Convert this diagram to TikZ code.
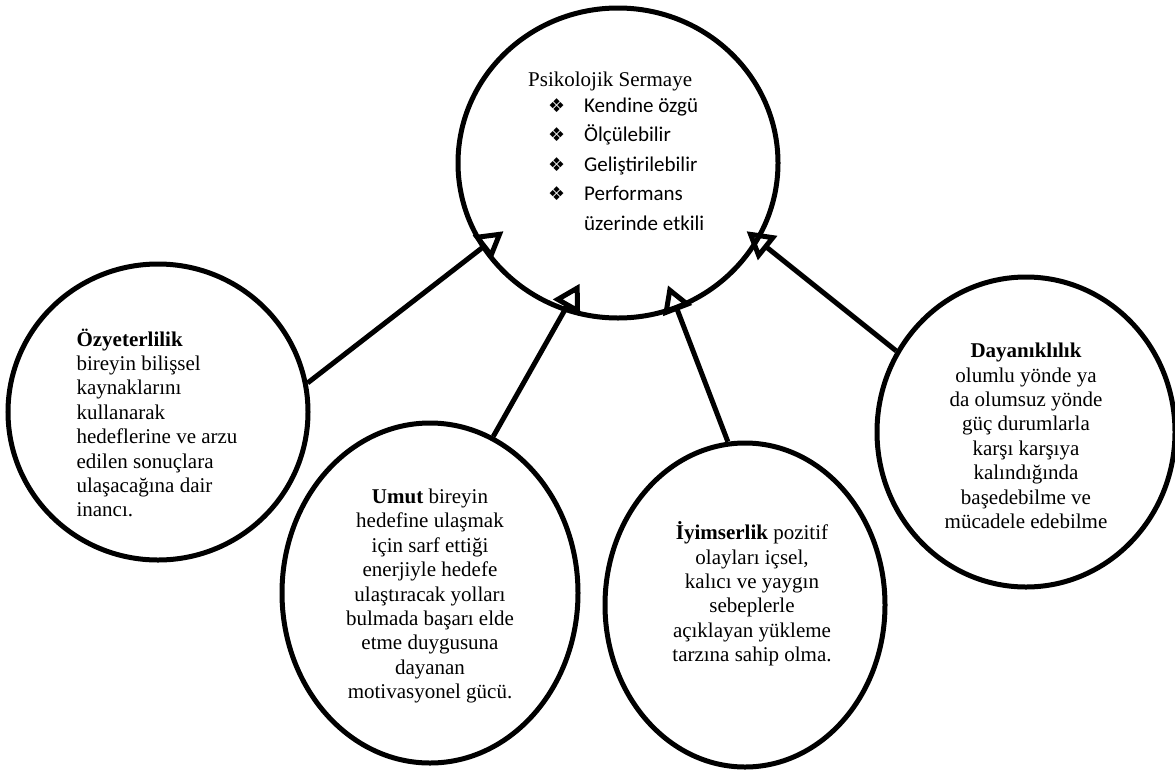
\documentclass[tikz,border=0pt]{standalone}
\usepackage{fontspec}
\setmainfont{Liberation Serif}
\newfontfamily\calibrifont{Carlito}
\newfontfamily\symbolfont{DejaVu Sans}
\usetikzlibrary{shapes.geometric,arrows.meta}
\newcommand{\bubblefont}{\fontsize{21}{24.4}\selectfont}
\newcommand{\pslistfont}{\calibrifont\fontsize{21}{29.5}\selectfont}
\newcommand{\psbullet}{\makebox[36pt][l]{\symbolfont\fontsize{19}{19}\selectfont ❖}}

\tikzset{
  bubble/.style={draw, ellipse, line width=5pt, inner sep=0pt},
  bubbletext/.style={inner sep=0pt, align=center, font=\bubblefont},
  link/.style={line width=5pt, -{Triangle[open, length=27pt, width=30pt]}},
}

\begin{document}
\begin{tikzpicture}[x=1pt, y=-1pt]
\useasboundingbox (0,0) rectangle (1175,769);

\node[bubble, minimum width=320pt, minimum height=310pt] (ps) at (618,163) {};
\node[anchor=base west, inner sep=0pt, font=\bubblefont] (pshead) at (528,86) {Psikolojik Sermaye};
\node[anchor=base west, inner sep=0pt, font=\pslistfont] (pslist) at (548,112) {%
\begin{tabular}[t]{@{}l@{}}
\psbullet Kendine özgü\\
\psbullet Ölçülebilir\\
\psbullet Geliştirilebilir\\
\psbullet Performans\\
\hspace*{36pt}üzerinde etkili
\end{tabular}};

\node[bubble, minimum width=300pt, minimum height=296pt] (ozy) at (158,412) {};
\node[bubbletext, align=left] (ozytext) at (157,423)
  {\textbf{Özyeterlilik}\\bireyin bilişsel\\kaynaklarını\\kullanarak\\hedeflerine ve arzu\\edilen sonuçlara\\ulaşacağına dair\\inancı.};
\node[bubble, minimum width=296pt, minimum height=340pt] (umut) at (430,593) {};
\node[bubbletext] (umuttext) at (430,596)
  {\textbf{Umut} bireyin\\hedefine ulaşmak\\için sarf ettiği\\enerjiyle hedefe\\ulaştıracak yolları\\bulmada başarı elde\\etme duygusuna\\dayanan\\motivasyonel gücü.};
\node[bubble, minimum width=280pt, minimum height=324pt] (iyim) at (745,605) {};
\node[bubbletext] (iyimtext) at (752,594)
  {\textbf{İyimserlik} pozitif\\olayları içsel,\\kalıcı ve yaygın\\sebeplerle\\açıklayan yükleme\\tarzına sahip olma.};
\node[bubble, minimum width=298pt, minimum height=310pt] (dayan) at (1026,432) {};
\node[bubbletext] (dayantext) at (1026,436)
  {\textbf{Dayanıklılık}\\olumlu yönde ya\\da olumsuz yönde\\güç durumlarla\\karşı karşıya\\kalındığında\\başedebilme ve\\mücadele edebilme};

\draw[link, shorten >=-28pt] (ozy.11) -- (ps.212);
\draw[link, shorten >=-32pt] (umut.68) -- (ps.250);
\draw[link, shorten >=-26pt] (iyim.96) -- (ps.292);
\draw[link, shorten >=-16pt] (dayan.148) -- (ps.331);
\end{tikzpicture}
\end{document}
